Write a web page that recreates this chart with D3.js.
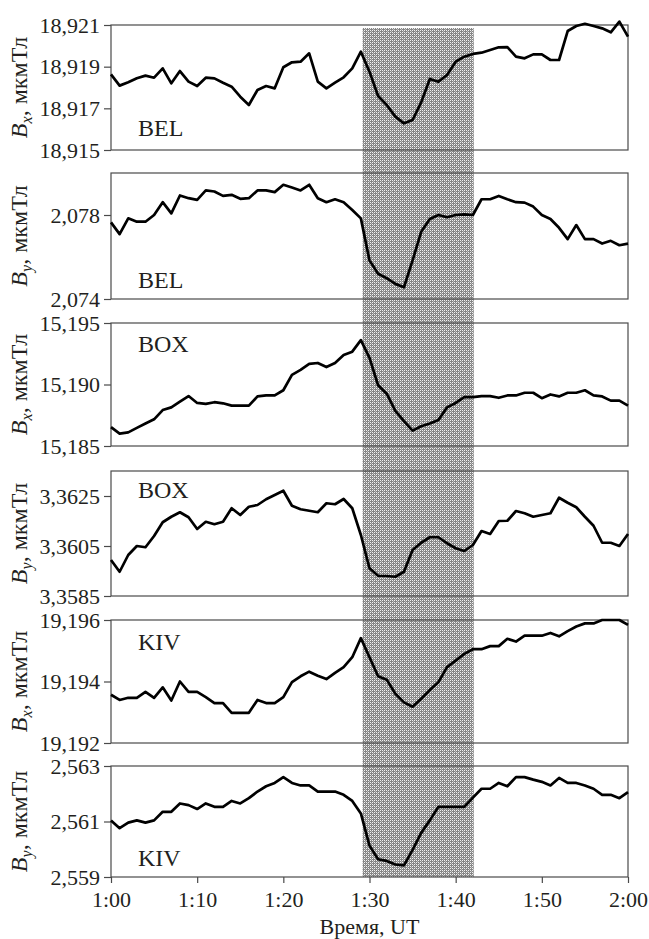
<!DOCTYPE html>
<html>
<head>
<meta charset="utf-8">
<script src="https://cdn.jsdelivr.net/npm/d3@7/dist/d3.min.js"></script>
<style>
  body { margin: 0; background: #fff; }
  svg { display: block; }
  text { font-family: "Liberation Serif", "Times New Roman", serif; fill: #231f20; }
</style>
</head>
<body>
<svg id="chart" width="649" height="939"></svg>
<script>
// Sample times: minutes after 1:00 UT, one value per minute
const minutes = d3.range(0, 61);

// Horizontal field components, 1:00–2:00 UT
const belBx = [18.91863,18.91809,18.91825,18.91844,18.91857,18.91847,18.91892,18.9182,18.91879,18.91828,
  18.91807,18.91847,18.91844,18.91823,18.91804,18.91756,18.91716,18.91788,18.91807,18.91796,
  18.91897,18.91921,18.91924,18.91964,18.91828,18.91796,18.91823,18.91849,18.91892,18.91972,
  18.91876,18.91759,18.91716,18.9166,18.91628,18.91644,18.91729,18.91841,18.91828,18.9186,
  18.91924,18.91948,18.91961,18.91967,18.9198,18.91993,18.91994,18.91948,18.9194,18.91959,
  18.91959,18.91932,18.91932,18.92071,18.92095,18.92106,18.92095,18.92084,18.92065,18.92116,18.92044];

const belBy = [2.07765,2.07709,2.07784,2.07768,2.07768,2.078,2.07861,2.07808,2.07893,2.0788,
  2.07872,2.07917,2.07912,2.07891,2.07896,2.07877,2.0788,2.07917,2.07917,2.07909,
  2.07944,2.07931,2.07917,2.07944,2.0788,2.07861,2.07875,2.07861,2.07824,2.07784,
  2.07584,2.0752,2.07499,2.07472,2.07456,2.07584,2.0772,2.07781,2.078,2.07789,
  2.078,2.07803,2.078,2.07875,2.07875,2.07891,2.07875,2.07861,2.07859,2.0784,
  2.078,2.07781,2.07739,2.07685,2.07752,2.07685,2.07685,2.07664,2.07677,2.07656,2.07664];

const boxBx = [15.18653,15.186,15.18611,15.18647,15.18683,15.18717,15.18792,15.18814,15.18861,15.18906,
  15.1885,15.18842,15.18856,15.18847,15.18828,15.18828,15.18828,15.18903,15.18911,15.18911,
  15.18953,15.19078,15.19119,15.19167,15.19175,15.19142,15.19175,15.19239,15.19267,15.19361,
  15.19217,15.18994,15.18925,15.18786,15.18703,15.18625,15.18661,15.18683,15.18711,15.18814,
  15.1885,15.18897,15.18897,15.18906,15.18906,15.18892,15.18911,15.18911,15.18933,15.18933,
  15.18889,15.18919,15.18903,15.18933,15.18933,15.18953,15.18911,15.18903,15.18869,15.18869,15.18828];

const boxBy = [3.35994,3.35947,3.36014,3.3605,3.36045,3.3609,3.36145,3.36167,3.36185,3.36165,
  3.36118,3.36147,3.36137,3.36147,3.36201,3.36174,3.36207,3.36214,3.36237,3.36254,
  3.36271,3.36211,3.36197,3.36191,3.36185,3.36221,3.36217,3.36238,3.36201,3.36094,
  3.35961,3.35931,3.3593,3.35927,3.35947,3.36034,3.36063,3.36085,3.36085,3.36061,
  3.36041,3.3603,3.36054,3.3611,3.36098,3.3615,3.36151,3.3619,3.36181,3.36167,
  3.36174,3.36181,3.36243,3.36223,3.36205,3.36167,3.36131,3.36063,3.36063,3.3605,3.36098];

const kivBx = [19.19357,19.1934,19.19347,19.19347,19.19366,19.19347,19.19381,19.19338,19.194,19.19366,
  19.19366,19.19349,19.1933,19.1933,19.19298,19.19298,19.19298,19.1934,19.1933,19.1933,
  19.19349,19.19398,19.19417,19.19432,19.19419,19.19408,19.19428,19.19447,19.19479,19.19541,
  19.19479,19.19417,19.19406,19.1936,19.19332,19.19318,19.19344,19.19372,19.19398,19.19447,
  19.19468,19.1949,19.19505,19.19505,19.19515,19.19515,19.19539,19.1953,19.19549,19.19549,
  19.19549,19.19558,19.19547,19.19564,19.19579,19.19589,19.19589,19.196,19.196,19.196,19.19584];

const kivBy = [2.56104,2.56076,2.56096,2.56104,2.56096,2.56104,2.56135,2.56135,2.56165,2.56159,
  2.56145,2.56165,2.56153,2.56153,2.56174,2.56165,2.56184,2.56208,2.56227,2.56239,
  2.5626,2.56239,2.5623,2.5623,2.56208,2.56208,2.56208,2.56196,2.56174,2.56129,
  2.56013,2.55964,2.55958,2.55945,2.55942,2.55998,2.56059,2.56104,2.56153,2.56153,
  2.56153,2.56153,2.56186,2.56218,2.56218,2.56239,2.56227,2.5626,2.5626,2.56251,
  2.56243,2.5623,2.56257,2.56239,2.56239,2.5623,2.56218,2.56196,2.56196,2.56184,2.56206];

const stations = ["BEL", "BEL", "BOX", "BOX", "KIV", "KIV"];
const components = ["x", "y", "x", "y", "x", "y"];
const series = [belBx, belBy, boxBx, boxBy, kivBx, kivBy];

// Value ranges and tick marks of each panel
const yDomains = [[18.915, 18.921], [2.074, 2.080], [15.185, 15.195], [3.3585, 3.3635], [19.192, 19.196], [2.559, 2.563]];
const yTicks = [
  [18.915, 18.917, 18.919, 18.921],
  [2.074, 2.078],
  [15.185, 15.190, 15.195],
  [3.3585, 3.3605, 3.3625],
  [19.192, 19.194, 19.196],
  [2.559, 2.561, 2.563]
];
const yTickLabels = [
  ["18,915", "18,917", "18,919", "18,921"],
  ["2,074", "2,078"],
  ["15,185", "15,190", "15,195"],
  ["3,3585", "3,3605", "3,3625"],
  ["19,192", "19,194", "19,196"],
  ["2,559", "2,561", "2,563"]
];
const xTicks = [0, 10, 20, 30, 40, 50, 60];
const xTickLabels = ["1:00", "1:10", "1:20", "1:30", "1:40", "1:50", "2:00"];

// Disturbance interval (minutes after 1:00)
const eventWindow = [29.2, 42.1];

// ---- layout ----
const left = 111, right = 628;
const panelTop = [25, 173, 323, 471, 620, 766];
const panelBottom = [150, 299, 446, 596, 743, 877];
const stationBaseline = [136, 288, 352, 498, 650, 866];

const svg = d3.select("#chart");

const x = d3.scaleLinear().domain([0, 60]).range([left, right]);

// Halftone texture for the shaded interval: square lattice of light dots
const defs = svg.append("defs");
const pat = defs.append("pattern")
  .attr("id", "halftone").attr("width", 4).attr("height", 4)
  .attr("patternUnits", "userSpaceOnUse");
pat.append("rect").attr("width", 4).attr("height", 4).attr("fill", "#858585");
[[0, 0], [2, 0], [0, 2], [2, 2]].forEach(([px, py]) => {
  pat.append("rect").attr("x", px).attr("y", py).attr("width", 1).attr("height", 1).attr("fill", "#f2f2f2");
});
pat.append("rect").attr("x", 1).attr("y", 1).attr("width", 1).attr("height", 1).attr("fill", "#b8b8b8");
pat.append("rect").attr("x", 3).attr("y", 3).attr("width", 1).attr("height", 1).attr("fill", "#b8b8b8");

svg.append("rect")
  .attr("x", x(eventWindow[0]))
  .attr("width", x(eventWindow[1]) - x(eventWindow[0]))
  .attr("y", panelTop[0] + 3)
  .attr("height", panelBottom[5] - panelTop[0] - 3)
  .attr("fill", "url(#halftone)");

series.forEach((vals, i) => {
  const top = panelTop[i], bottom = panelBottom[i];
  const y = d3.scaleLinear().domain(yDomains[i]).range([bottom, top]);
  const g = svg.append("g");

  // frame
  g.append("rect")
    .attr("x", left).attr("y", top)
    .attr("width", right - left).attr("height", bottom - top)
    .attr("fill", "none").attr("stroke", "#4a4a4a").attr("stroke-width", 1.2);

  // y axis
  const yAxis = d3.axisLeft(y)
    .tickValues(yTicks[i])
    .tickFormat((d, k) => yTickLabels[i][k])
    .tickSize(7).tickPadding(4);
  const ga = g.append("g").attr("transform", `translate(${left},0)`).call(yAxis);
  ga.select(".domain").remove();
  ga.selectAll(".tick line").attr("stroke", "#4a4a4a").attr("stroke-width", 1.2);
  ga.selectAll(".tick text").attr("font-size", 22).attr("fill", "#231f20")
    .attr("font-family", "Liberation Serif, serif");

  // data line
  const line = d3.line()
    .x((d, k) => x(minutes[k]))
    .y(d => y(d));
  g.append("path").datum(vals)
    .attr("d", line)
    .attr("fill", "none")
    .attr("stroke", "#000")
    .attr("stroke-width", 2.7)
    .attr("stroke-linejoin", "round");

  // station label
  g.append("text")
    .attr("x", 138).attr("y", stationBaseline[i])
    .attr("font-size", 24)
    .text(stations[i]);

  // axis title: B_x, мкмТл / B_y, мкмТл
  const cy = (top + bottom) / 2;
  const t = g.append("text")
    .attr("transform", `translate(27,${cy}) rotate(-90)`)
    .attr("text-anchor", "middle")
    .attr("font-size", 24);
  t.append("tspan").attr("font-style", "italic").text("B");
  t.append("tspan").attr("font-style", "italic").attr("font-size", 16).attr("dy", 5).text(components[i]);
  t.append("tspan").attr("dy", -5).text(", мкмТл");
});

// time axis under the last panel
const xAxis = d3.axisBottom(x)
  .tickValues(xTicks)
  .tickFormat((d, k) => xTickLabels[k])
  .tickSize(6).tickPadding(8);
const gx = svg.append("g").attr("transform", `translate(0,${panelBottom[5]})`).call(xAxis);
gx.select(".domain").remove();
gx.selectAll(".tick line").attr("stroke", "#4a4a4a").attr("stroke-width", 1.2);
gx.selectAll(".tick text").attr("font-size", 22).attr("fill", "#231f20")
  .attr("font-family", "Liberation Serif, serif");

svg.append("text")
  .attr("x", (left + right) / 2).attr("y", 934)
  .attr("text-anchor", "middle")
  .attr("font-size", 22)
  .text("Время, UT");
</script>
</body>
</html>
